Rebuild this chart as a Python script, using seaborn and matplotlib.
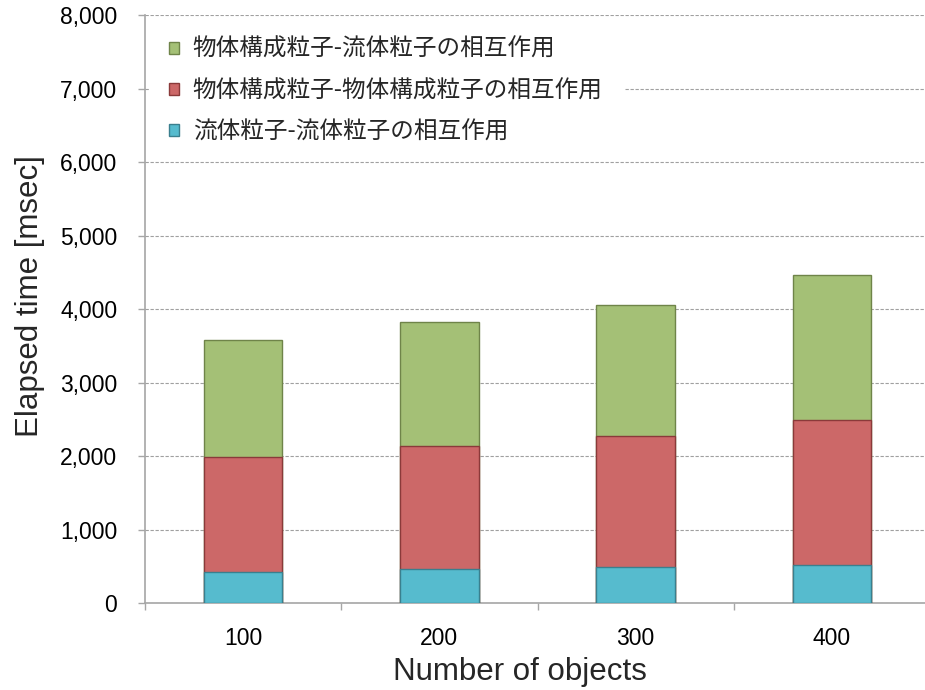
import matplotlib
matplotlib.use("Agg")
import matplotlib.pyplot as plt
import matplotlib.ticker as mticker
from matplotlib.font_manager import FontProperties
from matplotlib.patches import Rectangle
import seaborn as sns
import numpy as np

# Elapsed time per interaction type [msec]
objects = ["100", "200", "300", "400"]
fluid_fluid = [415, 456, 483, 514]        # 流体粒子-流体粒子
solid_solid = [1578, 1677, 1790, 1969]    # 物体構成粒子-物体構成粒子
solid_fluid = [1582, 1687, 1788, 1973]    # 物体構成粒子-流体粒子

labels = [
    "物体構成粒子-流体粒子の相互作用",
    "物体構成粒子-物体構成粒子の相互作用",
    "流体粒子-流体粒子の相互作用",
]
y_ticks = [0, 1000, 2000, 3000, 4000, 5000, 6000, 7000, 8000]

sns.set_style("white")
plt.rcParams["font.family"] = ["Liberation Sans", "Noto Sans CJK JP"]

fig = plt.figure(figsize=(9.25, 6.9), dpi=100)
ax = fig.add_axes([145 / 925, 87 / 690, 785 / 925, 588 / 690])

# cumulative heights for stacking (tallest drawn first)
lvl1 = np.array(fluid_fluid)
lvl2 = lvl1 + np.array(solid_solid)
lvl3 = lvl2 + np.array(solid_fluid)

layers = [
    (lvl3, "#A4C076", "#6F8449", labels[0]),
    (lvl2, "#CC6868", "#8A3A3A", labels[1]),
    (lvl1, "#56BBCE", "#3A7F8E", labels[2]),
]
for heights, fc, ec, lab in layers:
    sns.barplot(x=objects, y=heights, color=fc, edgecolor=ec, linewidth=1.0,
                width=0.4, saturation=1, label=lab, ax=ax, zorder=3)

ax.set_xlim(-0.5, 3.5)
ax.set_ylim(0, 8000)
ax.set_yticks(y_ticks)
ax.yaxis.set_major_formatter(mticker.StrMethodFormatter("{x:,.0f}"))

# dashed horizontal gridlines behind bars
ax.set_axisbelow(True)
ax.yaxis.grid(True, linestyle=(0, (3, 1.5)), color="#A0A0A0", linewidth=0.8)
ax.xaxis.grid(False)

for side in ["top", "right"]:
    ax.spines[side].set_visible(False)
for side in ["left", "bottom"]:
    ax.spines[side].set_color("#A6A6A6")
    ax.spines[side].set_linewidth(1.2)

ax.tick_params(axis="y", which="major", direction="out", length=5, width=1,
               color="#A6A6A6", pad=15, labelsize=16.5, labelcolor="black", left=True)
ax.set_xticks(range(len(objects)))
ax.set_xticklabels(objects)
ax.tick_params(axis="x", which="major", length=0, pad=17, labelsize=16.5,
               labelcolor="black")
ax.set_xticks([-0.5, 0.5, 1.5, 2.5, 3.5], minor=True)
ax.tick_params(axis="x", which="minor", direction="out", length=5, width=1,
               color="#A6A6A6", bottom=True)

ax.set_xlabel("Number of objects", fontsize=22.5)
ax.set_ylabel("Elapsed time [msec]", fontsize=22.5)
ax.xaxis.set_label_coords(0.478, -0.092)
ax.yaxis.set_label_coords(-0.128, 0.522)

# white panel behind the legend entries
ax.add_patch(Rectangle((5 / 785, (603 - 157) / 588), 475 / 785, 138 / 588,
                       transform=ax.transAxes, facecolor="white",
                       edgecolor="none", zorder=4))

leg_font = FontProperties(family=["Noto Sans CJK JP", "DejaVu Sans"], size=17)
leg = ax.legend(loc="upper left", bbox_to_anchor=(0.0127, 0.985), borderaxespad=0,
                prop=leg_font, frameon=False, handlelength=0.4,
                handleheight=0.4, handletextpad=0.6, labelspacing=0.78,
                borderpad=0.6)
leg.set_zorder(5)

fig.savefig("out.png", dpi=100)
